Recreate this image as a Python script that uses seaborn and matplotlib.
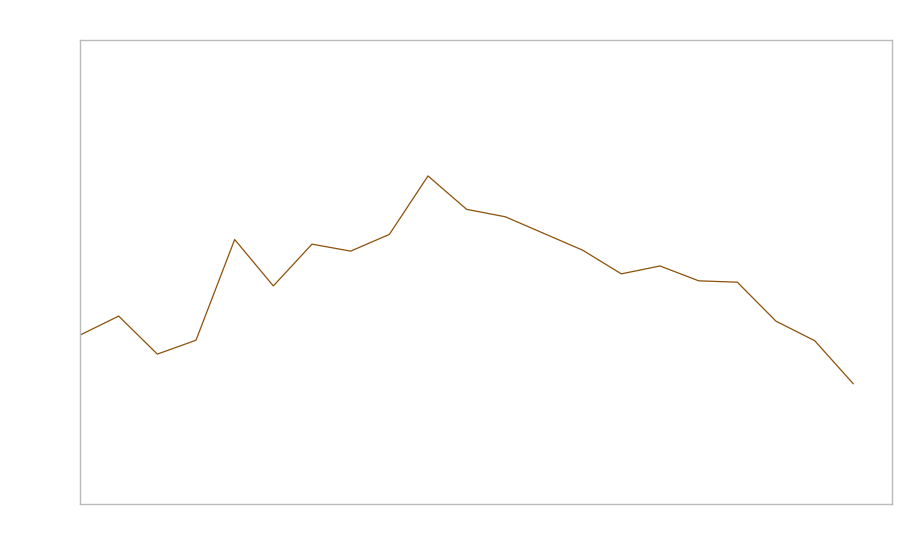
import matplotlib
matplotlib.use('Agg')

import matplotlib.pyplot as plt
import seaborn as sns
import pandas as pd

# values (arbitrary units, axis 0..100)
steps = list(range(21))
values = [36.4, 40.5, 32.3, 35.3, 57.0, 47.0, 56.0, 54.5, 58.1, 70.7,
          63.5, 61.9, 58.3, 54.7, 49.6, 51.3, 48.1, 47.8, 39.4, 35.2, 25.9]

df = pd.DataFrame({'step': steps, 'value': values})

sns.set_style('white')
fig = plt.figure(figsize=(9, 5.6), dpi=100)
ax = fig.add_axes([80 / 900, 56 / 560, 812 / 900, 464 / 560])

sns.lineplot(data=df, x='step', y='value', ax=ax, color='#8c510a', linewidth=0.9)

ax.set_xlim(0, 21)
ax.set_ylim(0, 100)
ax.set_xticks([])
ax.set_yticks([])
ax.set_xlabel('')
ax.set_ylabel('')
for s in ax.spines.values():
    s.set_color('#bbbbbb')
    s.set_linewidth(1)

fig.savefig('out.png', dpi=100)
plt.close(fig)
